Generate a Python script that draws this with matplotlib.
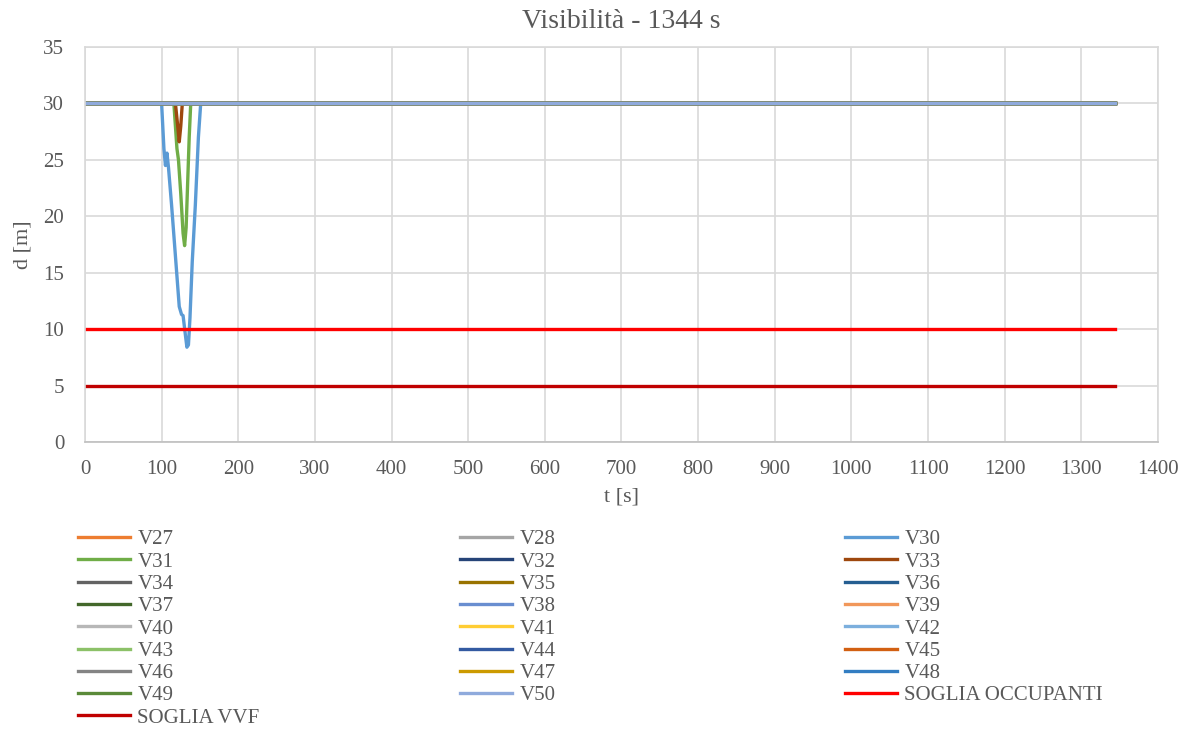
import matplotlib
matplotlib.use("Agg")
import matplotlib.pyplot as plt

plt.rcParams['font.family'] = ['Liberation Serif', 'DejaVu Serif']

# serie piatte: visibilità sempre al massimo (30 m) fino a fine simulazione
t_flat = [0, 1344]
d_flat = [30, 30]

# serie con abbassamento attorno a 100-150 s
t_v30 = [0, 100, 103, 105, 107, 109, 113, 118, 123, 126, 128, 131, 133, 135, 137, 140, 144, 148, 151, 1344]
d_v30 = [30, 30, 26.0, 24.5, 25.6, 24.3, 21.0, 16.5, 12.0, 11.3, 11.2, 9.5, 8.4, 8.6, 11.0, 16.0, 21.0, 27.0, 30, 30]

t_v31 = [0, 116, 120, 122, 125, 128, 130, 132, 134, 136, 138, 1344]
d_v31 = [30, 30, 26.0, 25.0, 22.0, 18.5, 17.4, 19.0, 23.0, 27.0, 30, 30]

t_v33 = [0, 118, 121, 123, 125, 127, 1344]
d_v33 = [30, 30, 28.0, 26.6, 28.0, 30, 30]

# soglie
t_soglia = [0, 1344]
d_occupanti = [10, 10]
d_vvf = [5, 5]

series_names = ['V27', 'V28', 'V30', 'V31', 'V32', 'V33', 'V34', 'V35', 'V36', 'V37',
                'V38', 'V39', 'V40', 'V41', 'V42', 'V43', 'V44', 'V45', 'V46', 'V47',
                'V48', 'V49', 'V50', 'SOGLIA OCCUPANTI', 'SOGLIA VVF']
series_colors = ['#ED7D31', '#A5A5A5', '#5B9BD5', '#70AD47', '#264478', '#9E480E',
                 '#636363', '#997300', '#255E91', '#43682B', '#698ED0', '#F1975A',
                 '#B7B7B7', '#FFCD33', '#7CAFDD', '#8CC168', '#335AA1', '#D26012',
                 '#848484', '#CC9A00', '#327DC2', '#5A8A39', '#8FAADC', '#FF0000', '#C00000']
series_data = {
    'V30': (t_v30, d_v30),
    'V31': (t_v31, d_v31),
    'V33': (t_v33, d_v33),
    'SOGLIA OCCUPANTI': (t_soglia, d_occupanti),
    'SOGLIA VVF': (t_soglia, d_vvf),
}

fig = plt.figure(figsize=(11.9, 7.29), dpi=100)
ax = fig.add_axes([0.0714, 0.3937, 0.9017, 0.5418])

handles = []
for name, col in zip(series_names, series_colors):
    t, d = series_data.get(name, (t_flat, d_flat))
    h, = ax.plot(t, d, color=col, linewidth=2.4, solid_joinstyle='round', label=name)
    handles.append(h)

ax.set_xlim(0, 1400)
ax.set_ylim(0, 35)
ax.set_xticks(range(0, 1401, 100))
ax.set_yticks(range(0, 36, 5))
ax.grid(True, color='#D9D9D9', linewidth=1.2)
ax.set_axisbelow(True)
ax.tick_params(length=0, labelsize=15, labelcolor='#595959')
ax.tick_params(axis='x', pad=13)
ax.tick_params(axis='y', pad=15)
for s in ax.spines.values():
    s.set_color('#D9D9D9')
    s.set_linewidth(1.2)
ax.spines['bottom'].set_color('#BFBFBF')

ax.set_title('Visibilità - 1344 s', fontsize=20, color='#595959', pad=14)
ax.set_xlabel('t [s]', fontsize=16, color='#595959', labelpad=6)
ax.set_ylabel('d [m]', fontsize=16, color='#595959', labelpad=8)

# legenda su tre colonne, ordinata per righe
col_x = [0.0571, 0.3781, 0.7016]
for c in range(3):
    hs = handles[c::3]
    leg = fig.legend(handles=hs, labels=[h.get_label() for h in hs],
                     loc='upper left', bbox_to_anchor=(col_x[c], 0.2875),
                     frameon=False, fontsize=15, handlelength=2.5,
                     handletextpad=0.33, labelspacing=0.13, borderpad=0)
    for txt in leg.get_texts():
        txt.set_color('#595959')

fig.savefig('out.png', dpi=100)
